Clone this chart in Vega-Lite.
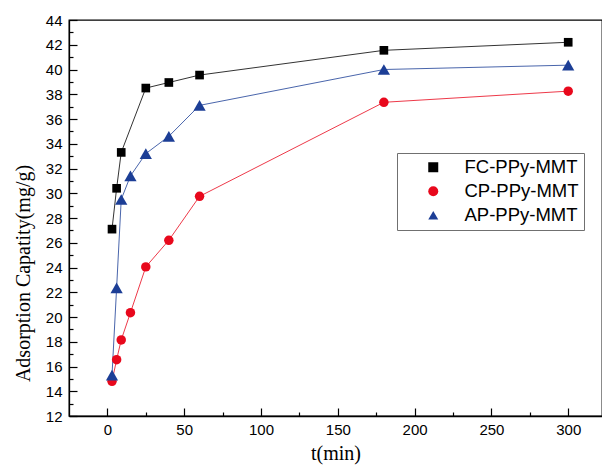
{
  "$schema": "https://vega.github.io/schema/vega-lite/v6.json",
  "autosize": {"type": "fit", "contains": "padding"},
  "padding": {"left": 13, "top": 13, "right": 0, "bottom": 8},
  "width": 602,
  "height": 471,
  "background": "white",
  "config": {
    "view": {"stroke": "black", "strokeWidth": 1.3},
    "axis": {"domainColor": "black", "domainWidth": 1.3, "tickColor": "black", "tickWidth": 1.2, "grid": false, "labelFont": "Liberation Sans", "labelFontSize": 15, "labelColor": "black", "titleFont": "Liberation Serif", "titleFontWeight": "normal", "titleFontSize": 20, "titleColor": "black"},
    "legend": {"orient": "none", "legendX": 328, "legendY": 133, "labelFont": "Liberation Sans", "labelFontSize": 18.5, "labelColor": "black"}
  },
  "data": {"values": [
    {"t": 3, "q": 27.1, "s": "FC-PPy-MMT"},
    {"t": 6, "q": 30.4, "s": "FC-PPy-MMT"},
    {"t": 9, "q": 33.3, "s": "FC-PPy-MMT"},
    {"t": 25, "q": 38.5, "s": "FC-PPy-MMT"},
    {"t": 40, "q": 38.95, "s": "FC-PPy-MMT"},
    {"t": 60, "q": 39.55, "s": "FC-PPy-MMT"},
    {"t": 180, "q": 41.55, "s": "FC-PPy-MMT"},
    {"t": 300, "q": 42.2, "s": "FC-PPy-MMT"},
    {"t": 3, "q": 14.8, "s": "CP-PPy-MMT"},
    {"t": 6, "q": 16.55, "s": "CP-PPy-MMT"},
    {"t": 9, "q": 18.15, "s": "CP-PPy-MMT"},
    {"t": 15, "q": 20.35, "s": "CP-PPy-MMT"},
    {"t": 25, "q": 24.05, "s": "CP-PPy-MMT"},
    {"t": 40, "q": 26.2, "s": "CP-PPy-MMT"},
    {"t": 60, "q": 29.75, "s": "CP-PPy-MMT"},
    {"t": 180, "q": 37.35, "s": "CP-PPy-MMT"},
    {"t": 300, "q": 38.25, "s": "CP-PPy-MMT"},
    {"t": 3, "q": 15.3, "s": "AP-PPy-MMT"},
    {"t": 6, "q": 22.35, "s": "AP-PPy-MMT"},
    {"t": 9, "q": 29.5, "s": "AP-PPy-MMT"},
    {"t": 15, "q": 31.4, "s": "AP-PPy-MMT"},
    {"t": 25, "q": 33.2, "s": "AP-PPy-MMT"},
    {"t": 40, "q": 34.6, "s": "AP-PPy-MMT"},
    {"t": 60, "q": 37.1, "s": "AP-PPy-MMT"},
    {"t": 180, "q": 40.0, "s": "AP-PPy-MMT"},
    {"t": 300, "q": 40.35, "s": "AP-PPy-MMT"}
  ]},
  "encoding": {
    "x": {"field": "t", "type": "quantitative",
      "scale": {"domain": [-25, 322], "nice": false, "zero": false},
      "axis": {"title": "t(min)", "values": [0, 25, 50, 75, 100, 125, 150, 175, 200, 225, 250, 275, 300],
        "labelExpr": "datum.value % 50 === 0 ? datum.label : ''",
        "tickSize": {"condition": {"test": "datum.value % 50 === 0", "value": -8}, "value": -4},
        "labelPadding": 14, "titlePadding": 6}},
    "y": {"field": "q", "type": "quantitative",
      "scale": {"domain": [12, 44], "nice": false, "zero": false},
      "axis": {"title": "Adsorption Capatity(mg/g)", "values": [12,13,14,15,16,17,18,19,20,21,22,23,24,25,26,27,28,29,30,31,32,33,34,35,36,37,38,39,40,41,42,43,44],
        "labelExpr": "datum.value % 2 === 0 ? datum.label : ''",
        "tickSize": {"condition": {"test": "datum.value % 2 === 0", "value": -8}, "value": -4},
        "labelPadding": 15, "titlePadding": 12, "titleY": 253}},
    "color": {"field": "s", "type": "nominal",
      "scale": {"domain": ["FC-PPy-MMT", "CP-PPy-MMT", "AP-PPy-MMT"], "range": ["#000000", "#e8081c", "#1c3e96"]},
      "legend": {"title": null, "orient": "none", "legendX": 328, "legendY": 133,
        "strokeColor": "#707070", "padding": 5, "rowPadding": 5, "symbolSize": 100, "symbolOffset": 22, "labelOffset": 22,
        "symbolOpacity": 1, "symbolStrokeWidth": 0}}
  },
  "layer": [
    {
      "mark": {"type": "line", "strokeWidth": 1, "opacity": 0.8}
    },
    {
      "mark": {"type": "point", "filled": true, "opacity": 1, "size": {"expr": "datum.s === 'AP-PPy-MMT' ? 150 : datum.s === 'CP-PPy-MMT' ? 90 : 75"}},
      "encoding": {
        "shape": {"field": "s", "type": "nominal",
          "scale": {"domain": ["FC-PPy-MMT", "CP-PPy-MMT", "AP-PPy-MMT"], "range": ["square", "circle", "triangle-up"]},
          "legend": {"title": null, "orient": "none", "legendX": 328, "legendY": 133,
            "strokeColor": "#707070", "padding": 5, "rowPadding": 5, "symbolSize": 100, "symbolOffset": 22, "labelOffset": 22,
            "symbolOpacity": 1, "symbolStrokeWidth": 0}}
      }
    }
  ]
}
